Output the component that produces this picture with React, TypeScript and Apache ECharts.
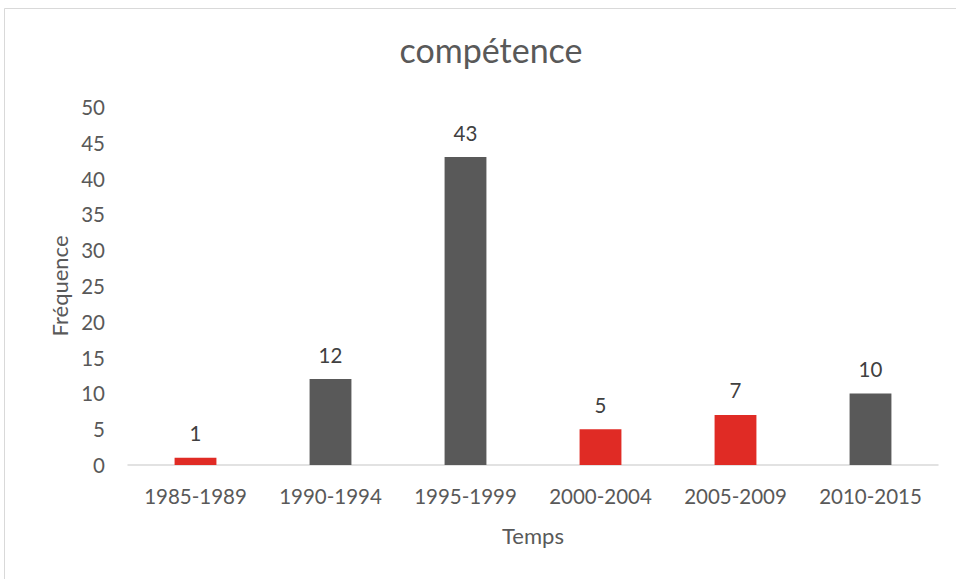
import React, { useEffect, useRef } from "react";
import * as echarts from "echarts";

const categories = ["1985-1989", "1990-1994", "1995-1999", "2000-2004", "2005-2009", "2010-2015"];
const values = [1, 12, 43, 5, 7, 10];
const barColors = ["#E02B25", "#595959", "#595959", "#E02B25", "#E02B25", "#595959"];

const FONT = "Lato, 'Open Sans', sans-serif";
const TEXT = "#595959";

export default function App() {
  const ref = useRef<HTMLDivElement>(null);
  useEffect(() => {
    if (!ref.current) return;
    const chart = echarts.init(ref.current, undefined, { renderer: "svg" });
    chart.setOption({
      animation: false,
      backgroundColor: "#ffffff",
      textStyle: { fontFamily: FONT },
      graphic: [
        {
          type: "rect",
          shape: { x: 4.5, y: 8.5, width: 970, height: 600 },
          style: { fill: "none", stroke: "#D9D9D9", lineWidth: 1 },
          silent: true,
        },
      ],
      title: {
        text: "compétence",
        left: 486,
        textAlign: "center",
        top: 27,
        textStyle: { fontFamily: FONT, fontSize: 34, fontWeight: "normal", color: TEXT },
      },
      grid: { left: 128, right: 18, top: 107, bottom: 114, containLabel: false },
      xAxis: {
        type: "category",
        data: categories,
        name: "Temps",
        nameLocation: "middle",
        nameGap: 59,
        nameTextStyle: { fontFamily: FONT, fontSize: 22, color: TEXT },
        axisLine: { lineStyle: { color: "#D9D9D9", width: 1.5 } },
        axisTick: { show: false },
        axisLabel: { fontFamily: FONT, fontSize: 20.5, color: TEXT, margin: 20 },
      },
      yAxis: {
        type: "value",
        min: 0,
        max: 50,
        interval: 5,
        name: "Fréquence",
        nameLocation: "middle",
        nameGap: 58,
        nameTextStyle: { fontFamily: FONT, fontSize: 22, color: TEXT },
        axisLine: { show: false },
        axisTick: { show: false },
        splitLine: { show: false },
        axisLabel: { fontFamily: FONT, fontSize: 20.5, color: TEXT, margin: 23 },
      },
      series: [
        {
          type: "bar",
          barWidth: "31%",
          data: values.map((v, i) => ({ value: v, itemStyle: { color: barColors[i] } })),
          label: {
            show: true,
            position: "top",
            distance: 14,
            fontFamily: FONT,
            fontSize: 20.5,
            color: "#404040",
          },
        },
      ],
    });
    return () => chart.dispose();
  }, []);
  return (
    <div
      ref={ref}
      style={{ position: "fixed", left: 0, top: 0, width: 956, height: 579 }}
    />
  );
}
